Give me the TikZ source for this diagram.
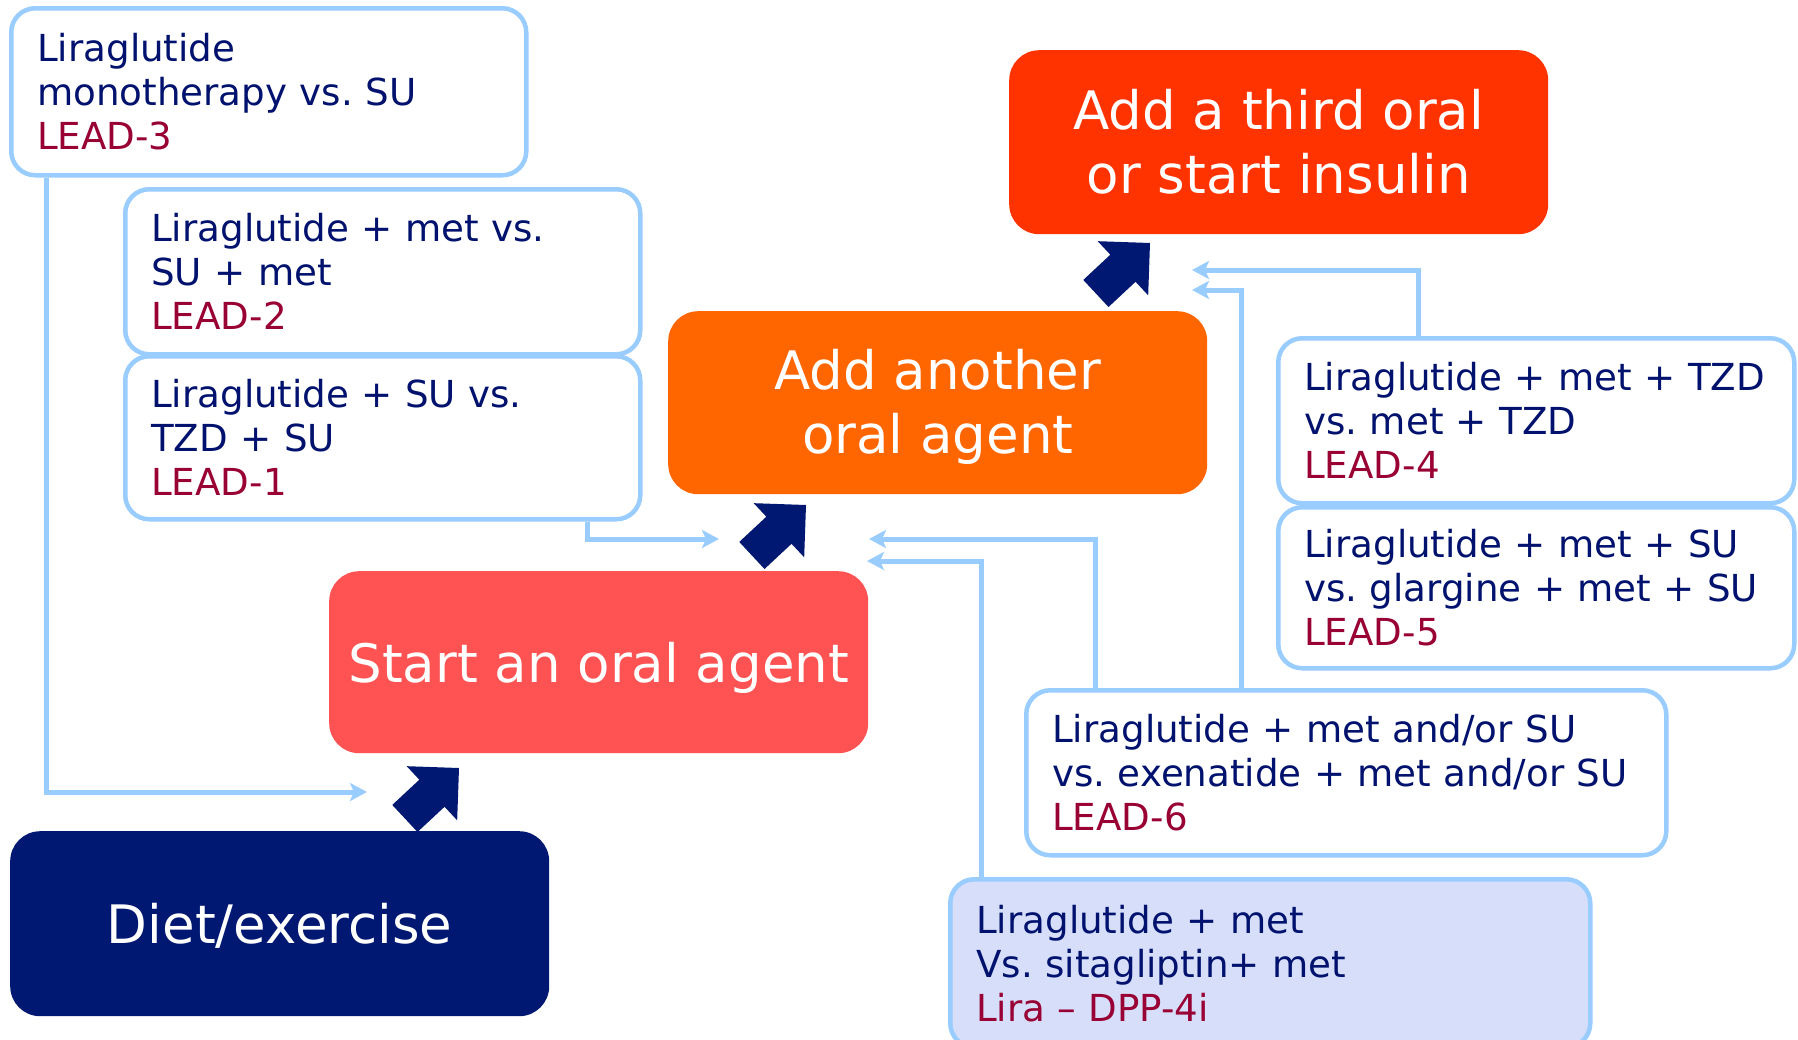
\documentclass[tikz,border=0pt]{standalone}
\usepackage{fontspec}
\setmainfont{DejaVu Sans}
\usetikzlibrary{arrows.meta}
\definecolor{navy}{RGB}{0,24,114}
\definecolor{txtblue}{RGB}{0,18,110}
\definecolor{leadred}{RGB}{153,0,51}
\definecolor{lblue}{RGB}{153,204,255}
\definecolor{lav}{RGB}{214,222,250}
\definecolor{redorange}{RGB}{255,51,0}
\definecolor{orangeone}{RGB}{255,102,0}
\definecolor{salmon}{RGB}{255,82,82}
\begin{document}
\frenchspacing
\begin{tikzpicture}[x=1pt,y=-1pt,
 studybox/.style={draw=lblue, line width=4.5pt, rounded corners=24pt, fill=white, text=txtblue,
   font=\fontsize{37.2}{44}\selectfont\frenchspacing, align=left, inner xsep=26pt, inner ysep=0pt, anchor=north west},
 stepbox/.style={rounded corners=30pt, text=white, font=\fontsize{53}{64}\selectfont,
   align=center, anchor=north west, inner sep=0pt},
 conn/.style={draw=lblue, line width=5pt, -{Stealth[length=17pt,width=18pt,inset=4pt]}},
 fatarrow/.pic={\fill[navy,x=1pt,y=1pt,rotate=43] (0,0) -- (-37,37) -- (-37,18.5) -- (-74,18.5) -- (-74,-18.5) -- (-37,-18.5) -- (-37,-37) -- cycle;}
]
\useasboundingbox (0,0) rectangle (1798,1039);
\fill[white] (0,0) rectangle (1798,1039);
\begin{scope}
\clip (0,0) rectangle (1798,1039);
% steps
\node[stepbox, fill=navy, minimum width=539pt, minimum height=185pt] (diet) at (10,831) {\rule{0pt}{44pt}Diet/exercise};
\node[stepbox, fill=salmon, minimum width=539pt, minimum height=182pt] (start) at (329,571) {\rule{0pt}{52pt}Start an oral agent};
\node[stepbox, fill=orangeone, minimum width=539pt, minimum height=183pt] (another) at (668,311) {\rule{0pt}{48pt}Add another\\oral agent};
\node[stepbox, fill=redorange, minimum width=539pt, minimum height=184pt] (third) at (1009,50) {Add a third oral\\or start insulin};
% study boxes
\node[studybox, text width=463pt, minimum width=515pt, minimum height=167pt] (lead3) at (9,6)
  {Liraglutide\\monotherapy vs. SU\\\textcolor{leadred}{LEAD-3}};
\node[studybox, text width=463pt, minimum width=515pt, minimum height=165pt] (lead2) at (123,187)
  {Liraglutide + met vs.\\SU + met\\\textcolor{leadred}{LEAD-2}};
\node[studybox, text width=463pt, minimum width=515pt, minimum height=163pt] (lead1) at (123,354)
  {Liraglutide + SU vs.\\TZD + SU\\\textcolor{leadred}{LEAD-1}};
\node[studybox, text width=464pt, minimum width=516pt, minimum height=165pt] (lead4) at (1276,336)
  {\mbox{Liraglutide + met + TZD}\\vs. met + TZD\\\textcolor{leadred}{LEAD-4}};
\node[studybox, text width=464pt, minimum width=516pt, minimum height=161pt] (lead5) at (1276,505)
  {\mbox{Liraglutide + met + SU}\\\mbox{vs. glargine + met + SU}\\\textcolor{leadred}{LEAD-5}};
\node[studybox, text width=588pt, minimum width=640pt, minimum height=165pt] (lead6) at (1024,688)
  {\mbox{Liraglutide + met and/or SU}\\\mbox{vs. exenatide + met and/or SU}\\\textcolor{leadred}{LEAD-6}};
\node[studybox, fill=lav, text width=588pt, minimum width=640pt, minimum height=168pt] (lira) at (948,877)
  {Liraglutide + met\\Vs. sitagliptin+ met\\\textcolor{leadred}{Lira – DPP-4i}};
% fat step arrows
\pic at (459,768) {fatarrow};
\pic at (806,505) {fatarrow};
\pic at (1150,243) {fatarrow};
% connectors
\coordinate (t1) at (367,792);
\coordinate (t2) at (719,539);
\coordinate (t3) at (869,539);
\coordinate (t4) at (867,561);
\coordinate (t5) at (1192,290);
\coordinate (t6) at (1192,270);
\draw[conn] ([xshift=37pt]lead3.south west) |- (t1);
\draw[conn] ([xshift=-55pt]lead1.south east) |- (t2);
\draw[conn] ([xshift=71pt]lead6.north west) |- (t3);
\draw[conn] ([xshift=33pt]lira.north west) |- (t4);
\draw[conn] ([xshift=217pt]lead6.north west) |- (t5);
\draw[conn] ([xshift=142pt]lead4.north west) |- (t6);
\end{scope}
\end{tikzpicture}
\end{document}
